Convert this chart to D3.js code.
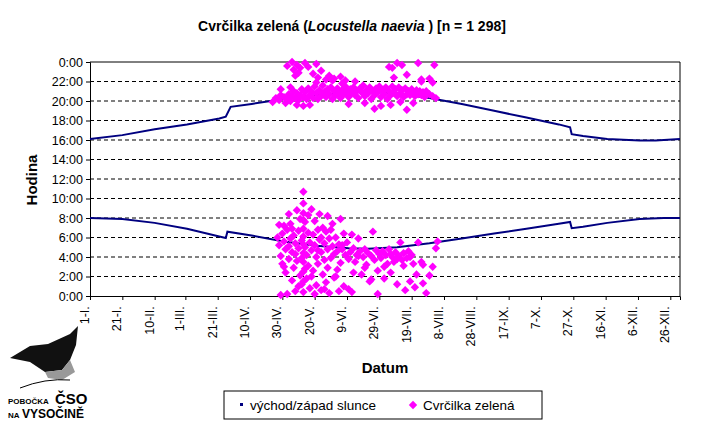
<!DOCTYPE html><html><head><meta charset="utf-8">
<script src="https://cdn.jsdelivr.net/npm/d3@7"></script>
<style>body{margin:0;background:#fff}text{font-family:Arial,"Liberation Sans",sans-serif}</style></head><body>
<svg id="c" width="702" height="424"></svg>
<script>
const xTicks=[0,20,40,59,79,99,119,139,159,179,199,219,239,259,279,299,319,339,359];
const xLabels=["1-I.","21-I.","10-II.","1-III.","21-III.","10-IV.","30-IV.","20-V.","9-VI.","29-VI.","19-VII.","8-VIII.","28-VIII.","17-IX.","7-X.","27-X.","16-XI.","6-XII.","26-XII."];
const yTicks=[0,2,4,6,8,10,12,14,16,18,20,22,24];
const yLabels=["0:00","2:00","4:00","6:00","8:00","10:00","12:00","14:00","16:00","18:00","20:00","22:00","0:00"];
const sunriseDays=[0,20,40,60,80,84,85,100,120,140,160,172,190,210,230,250,270,290,297,298,305,320,340,355,365];
const sunriseHours=[8.0,7.9,7.5,6.9,6.1,5.95,6.6,6.2,5.6,5.15,4.9,4.85,5.0,5.4,5.9,6.4,6.9,7.4,7.6,6.95,7.1,7.5,7.9,8.0,8.0];
const sunsetDays=[0,20,40,60,80,84,87,100,120,140,160,172,190,210,230,250,270,290,297,298,305,320,340,350,365];
const sunsetHours=[16.1,16.5,17.1,17.6,18.2,18.4,19.4,19.7,20.2,20.6,20.9,20.95,20.8,20.3,19.7,19.0,18.3,17.6,17.3,16.6,16.4,16.1,15.95,15.95,16.1];
const birdEvening=[[113,19.9],[115,20.3],[117,20.1],[118,20.6],[120,20.4],[121,19.8],[122,20.2],[123,20.7],[124,20.0],[125,20.5],[126,21.0],[127,20.3],[128,20.8],[129,20.1],[130,20.6],[131,21.2],[132,20.4],[133,20.9],[134,20.2],[135,21.3],[136,20.6],[137,21.0],[138,20.3],[139,21.5],[140,20.8],[141,20.2],[142,21.1],[143,20.5],[144,21.6],[145,20.9],[146,20.4],[147,21.2],[148,20.7],[149,21.4],[150,20.2],[151,21.0],[152,20.6],[153,21.3],[154,20.8],[155,20.3],[156,21.1],[157,20.7],[158,21.5],[159,20.9],[160,20.4],[161,21.2],[162,20.8],[163,21.4],[164,20.6],[165,21.0],[166,20.3],[167,21.3],[168,20.9],[169,21.6],[170,20.5],[171,21.1],[172,20.8],[173,21.4],[174,20.2],[175,21.0],[176,20.6],[177,21.3],[178,20.9],[179,21.5],[180,20.4],[181,21.1],[182,20.7],[183,21.4],[184,20.2],[185,21.0],[186,20.6],[187,21.5],[188,20.9],[189,21.2],[190,20.5],[191,21.4],[192,20.8],[193,21.1],[194,20.4],[195,21.3],[196,20.7],[197,21.0],[198,20.6],[199,21.2],[200,20.8],[201,20.5],[202,21.1],[203,20.7],[204,21.0],[205,20.6],[206,20.9],[207,20.4],[208,21.0],[210,20.7],[212,20.5],
[118,21.2],[124,21.4],[128,19.6],[132,19.5],[136,19.6],[140,21.9],[146,22.2],[150,22.1],[156,21.8],[160,19.7],[164,22.0],[170,19.8],[176,19.2],[180,19.5],[186,19.6],[192,19.9],[196,19.1],[200,19.8],[205,22.0],[210,22.3],[214,20.3],
[122,23.6],[125,24.0],[126,23.2],[127,22.6],[128,23.7],[129,22.9],[130,23.4],[133,23.9],[135,23.5],[138,22.8],[140,23.8],[141,22.4],[143,23.1],[148,22.6],[151,22.3],[155,22.5],[158,22.1],[185,23.5],[187,23.4],[188,22.4],[190,23.9],[193,23.7],[196,22.7],[203,23.9],[205,22.2],[213,23.7],[212,21.9]];
const birdMorning=[[116,6.0],[117,5.2],[118,4.1],[118,0.1],[119,3.3],[119,6.4],[120,5.6],[120,7.2],[121,4.8],[121,2.4],[122,6.8],[122,0.2],[123,5.1],[123,3.8],[124,7.4],[124,5.9],[125,1.6],[125,4.5],[126,6.2],[126,2.9],[127,5.4],[127,0.5],[128,8.8],[128,3.6],[129,4.9],[129,6.7],[130,7.9],[130,2.1],[131,5.7],[131,1.2],[132,10.7],[132,9.5],[132,8.5],[132,7.8],[132,6.9],[132,6.1],[132,5.3],[132,4.4],[132,3.5],[132,2.5],[132,1.5],[132,0.4],[133,5.0],[133,7.6],[134,4.2],[134,1.8],[135,6.5],[135,3.1],[136,5.5],[136,0.8],[137,8.9],[137,4.7],[138,6.3],[138,2.6],[139,7.7],[139,5.2],[140,4.0],[140,1.1],[141,6.8],[141,3.3],[142,8.4],[142,5.8],[143,4.5],[143,0.6],[144,7.0],[144,2.2],[145,5.4],[145,3.7],[146,6.6],[146,1.4],[147,4.8],[147,8.2],[148,5.9],[148,0.3],[149,3.9],[150,7.4],[150,5.1],[151,4.3],[151,1.9],[152,6.0],[153,4.6],[153,2.7],[154,5.3],[155,7.9],[155,3.4],[156,4.8],[157,6.4],[157,1.0],[158,4.2],[159,5.5],[160,3.8],[161,4.5],[162,6.3],[162,0.4],[163,4.9],[164,3.5],[165,4.2],[166,5.9],[167,4.6],[168,2.2],[169,4.0],[170,4.8],[171,3.2],[172,4.4],[173,1.5],[174,4.1],[175,6.6],[176,3.7],[177,4.7],[178,2.6],[179,4.3],[180,3.9],[181,4.6],[182,1.8],[183,4.2],[184,3.3],[185,4.8],[186,2.4],[187,4.0],[188,3.5],[189,4.5],[190,1.2],[191,4.1],[192,5.5],[193,3.7],[194,4.4],[195,0.6],[196,3.9],[197,4.6],[198,1.5],[199,4.2],[200,3.3],[201,0.9],[202,2.2],[203,5.5],[205,3.5],[206,3.2],[206,1.3],[208,0.3],[210,2.1],[212,3.0],[214,4.9],[215,5.6],
[117,7.3],[120,3.0],[123,8.4],[125,6.9],[127,4.3],[129,1.0],[131,3.9],[133,2.8],[135,8.3],[137,2.0],[139,0.2],[141,4.7],[143,6.0],[145,0.7],[147,2.9],[149,6.8],[152,2.0],[154,0.5],[156,5.2],[160,0.7],[163,2.4],[166,4.1],[170,2.9],[174,1.7],[178,0.2],[182,3.0],[186,4.3],[190,3.8],[194,3.1],[198,4.0]];

const W=702,H=424,L=90,R=680,T=62,B=296;
const svg=d3.select("#c");
const x=d3.scaleLinear().domain([0,365]).range([L,R]);
const y=d3.scaleLinear().domain([0,24]).range([B,T]);
const g=svg.append("g");
g.selectAll(".gl").data(yTicks.slice(1,12)).join("line").attr("x1",L).attr("x2",R).attr("y1",d=>y(d)).attr("y2",d=>y(d)).attr("stroke","#000").attr("stroke-dasharray","4,3").attr("stroke-width",1);
g.append("line").attr("x1",L).attr("x2",R).attr("y1",y(24)).attr("y2",y(24)).attr("stroke","#000");
g.append("line").attr("x1",R).attr("x2",R).attr("y1",T).attr("y2",B).attr("stroke","#000");
const ya=d3.axisLeft(y).tickValues(yTicks).tickFormat((d,i)=>yLabels[i]).tickSize(4);
svg.append("g").attr("transform",`translate(${L},0)`).call(ya).call(a=>{a.select(".domain").attr("stroke","#000");a.selectAll("text").attr("font-size",12.5).attr("fill","#000");});
const xa=d3.axisBottom(x).tickValues(xTicks).tickFormat((d,i)=>xLabels[i]).tickSize(4);
svg.append("g").attr("transform",`translate(0,${B})`).call(xa).call(a=>{a.selectAll("text").attr("font-size",12.5).attr("fill","#000").attr("transform","rotate(-90)").attr("text-anchor","end").attr("dx","-0.5em").attr("dy","-0.45em").attr("x",-4).attr("y",0).style("dominant-baseline","central");});
const ln=d3.line().x(d=>x(d[0])).y(d=>y(d[1]));
[[sunriseDays,sunriseHours],[sunsetDays,sunsetHours]].forEach(([ds,hs])=>{
 svg.append("path").attr("d",ln(ds.map((d,i)=>[d,hs[i]]))).attr("fill","none").attr("stroke","#000080").attr("stroke-width",2);
});
const dia="M0,-4.2L4.2,0L0,4.2L-4.2,0Z";
svg.append("g").selectAll("path").data(birdEvening.concat(birdMorning)).join("path").attr("d",dia).attr("transform",d=>`translate(${x(d[0])},${y(d[1])})`).attr("fill","#ff00ff");
const t=svg.append("text").attr("x",352).attr("y",31).attr("text-anchor","middle").attr("font-size",14).attr("font-weight","bold");
t.append("tspan").text("Cvrčilka zelená (");t.append("tspan").attr("font-style","italic").text("Locustella naevia");t.append("tspan").text(" ) [n = 1 298]");
svg.append("text").attr("x",385).attr("y",373).attr("text-anchor","middle").attr("font-size",15).attr("font-weight","bold").text("Datum");
svg.append("text").attr("transform","translate(37,180) rotate(-90)").attr("text-anchor","middle").attr("font-size",15).attr("font-weight","bold").text("Hodina");
svg.append("rect").attr("x",224).attr("y",391).attr("width",318).attr("height",28).attr("fill","#fff").attr("stroke","#000");
svg.append("rect").attr("x",240).attr("y",403).attr("width",3).attr("height",3).attr("fill","#000080");
svg.append("text").attr("x",250).attr("y",410).attr("font-size",13.5).text("východ/západ slunce");
svg.append("path").attr("d",dia).attr("transform","translate(413,405)").attr("fill","#ff00ff");
svg.append("text").attr("x",423).attr("y",410).attr("font-size",13.5).text("Cvrčilka zelená");
const lg=svg.append("g");
lg.append("path").attr("d","M10,358 L30,346 L48,344 L70,334 L78,326 L76,345 L70,360 L62,370 L45,372 L30,362 Z").attr("fill","#111");
lg.append("path").attr("d","M45,372 L62,370 L70,360 L75,372 L62,380 L48,378 Z").attr("fill","#999");
lg.append("path").attr("d","M20,388 Q45,378 70,380").attr("fill","none").attr("stroke","#000");
lg.append("text").attr("x",8).attr("y",404).attr("font-size",8).attr("font-weight","bold").text("POBOČKA");
lg.append("text").attr("x",55).attr("y",404).attr("font-size",15).attr("font-weight","bold").text("ČSO");
lg.append("text").attr("x",8).attr("y",418).attr("font-size",8).attr("font-weight","bold").text("NA");
lg.append("text").attr("x",22).attr("y",418).attr("font-size",12).attr("font-weight","bold").text("VYSOČINĚ");
</script></body></html>
